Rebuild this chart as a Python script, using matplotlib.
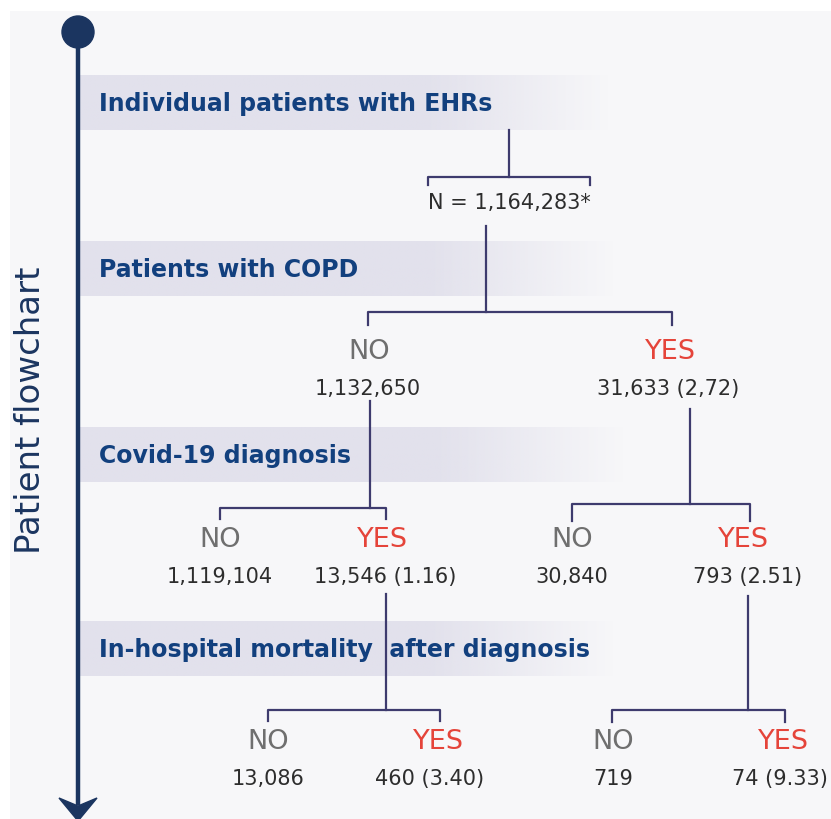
import matplotlib
matplotlib.use('Agg')
import matplotlib.pyplot as plt
import matplotlib.colors as mcolors
from matplotlib.patches import Rectangle, Circle, Polygon
import numpy as np

# data
total_label = 'N = 1,164,283*'
steps = ['Individual patients with EHRs', 'Patients with COPD',
         'Covid-19 diagnosis', 'In-hospital mortality  after diagnosis']
answers = ['NO', 'YES', 'NO', 'YES', 'NO', 'YES', 'NO', 'YES', 'NO', 'YES']
counts = ['1,132,650', '31,633 (2,72)',
          '1,119,104', '13,546 (1.16)', '30,840', '793 (2.51)',
          '13,086', '460 (3.40)', '719', '74 (9.33)']
side_title = 'Patient flowchart'

# layout (pixel coordinates)
band_y = [76, 242, 428, 622]
band_h = 55
band_x1 = [610, 615, 625, 615]
answer_x = [369, 670, 220, 382, 572, 743, 268, 438, 613, 783]
count_x = [368, 668, 220, 385, 572, 748, 268, 430, 613, 828]
row_y = [352, 352, 540, 540, 540, 540, 742, 742, 742, 742]
count_dy = 37
# stem x, stem top, bar y, bar left, bar right, tick bottom
brackets = [
    (509, 131, 178, 428, 590, 186),
    (486, 227, 313, 368, 672, 326),
    (370, 402, 509, 220, 386, 520),
    (690, 410, 505, 572, 750, 522),
    (386, 595, 711, 268, 440, 722),
    (748, 597, 711, 612, 785, 723),
]

navy = '#1b3560'
title_blue = '#12407e'
line_col = '#3e3b6e'
grey = '#6f6f6f'
red = '#e5443a'
dark = '#2d2d2d'

fig = plt.figure(figsize=(8.31, 8.20), dpi=100)
ax = fig.add_axes([0, 0, 1, 1])
fig.patch.set_facecolor('white')

ax.add_patch(Rectangle((10, 12), 821, 808, facecolor='#f7f7f9', edgecolor='none', zorder=0))

# faded bands
band_rgb = mcolors.to_rgb('#e2e1ec')
for y0, x1 in zip(band_y, band_x1):
    t = np.linspace(0, 1, 300)
    alpha = np.clip((1 - t) / 0.35, 0, 1)
    img = np.zeros((1, 300, 4))
    img[0, :, :3] = band_rgb
    img[0, :, 3] = alpha
    ax.imshow(img, extent=[80, x1, y0 + band_h, y0], aspect='auto', zorder=1,
              interpolation='bilinear')

for y0, s in zip(band_y, steps):
    ax.text(99, y0 + band_h / 2 + 1, s, fontsize=17, fontweight='bold',
            color=title_blue, ha='left', va='center', zorder=3)

# timeline
ax.plot([78, 78], [33, 806], color=navy, lw=3.2, solid_capstyle='butt', zorder=4)
ax.add_patch(Circle((78, 33), 16, color=navy, zorder=5))
ax.add_patch(Polygon([(59, 799), (78, 807), (97, 799), (78, 822)],
                     closed=True, color=navy, zorder=5))
ax.text(31, 410, side_title, rotation=90, fontsize=24.5, color=navy,
        ha='center', va='center', zorder=3)

# tree
for sx, sy, by, bl, br, tb in brackets:
    ax.plot([sx, sx], [sy, by], color=line_col, lw=1.6, zorder=2)
    ax.plot([bl, bl, br, br], [tb, by, by, tb], color=line_col, lw=1.6, zorder=2)

ax.text(509, 203, total_label, fontsize=15, color=dark, ha='center', va='center')

for i in range(len(answers)):
    ax.text(answer_x[i], row_y[i], answers[i], fontsize=19.5,
            color=grey if answers[i] == 'NO' else red, ha='center', va='center')
    ha = 'right' if i == len(answers) - 1 else 'center'
    ax.text(count_x[i], row_y[i] + count_dy, counts[i], fontsize=15,
            color=dark, ha=ha, va='center')

ax.set_xlim(0, 831)
ax.set_ylim(820, 0)
ax.axis('off')
fig.savefig('out.png', dpi=100, facecolor='white')
